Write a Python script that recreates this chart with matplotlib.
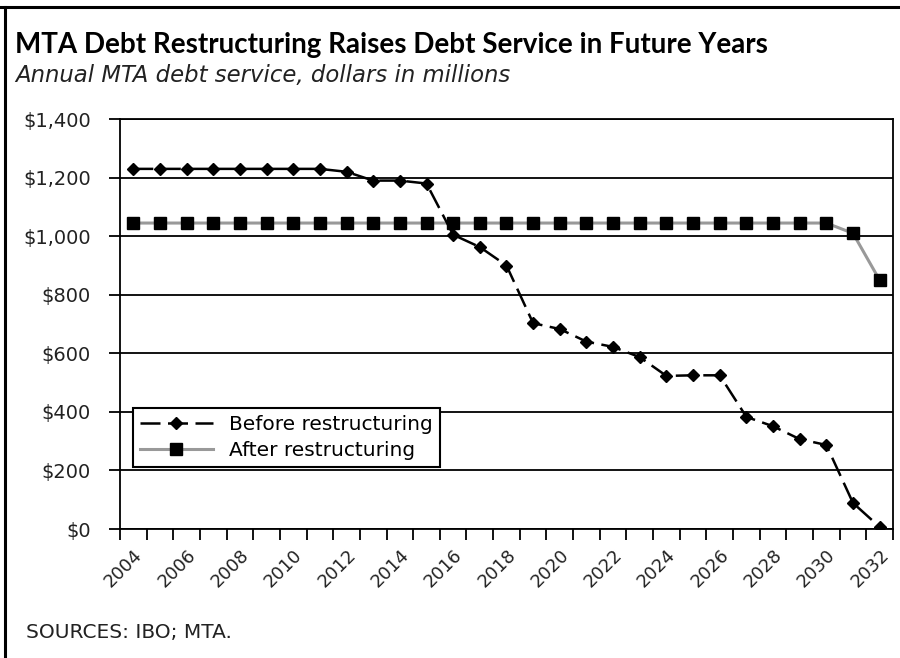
import matplotlib.pyplot as plt
from matplotlib.lines import Line2D

years = list(range(2004, 2033))
before = [1230, 1230, 1230, 1230, 1230, 1230, 1230, 1230, 1220, 1190,
          1190, 1180, 1005, 963, 900, 703, 683, 640, 622, 587,
          523, 525, 525, 383, 351, 307, 287, 89, 7]
after = [1045] * 27 + [1010, 850]
y_ticks = [0, 200, 400, 600, 800, 1000, 1200, 1400]


def main():
    plt.rcParams['font.family'] = ['DejaVu Sans']
    fig = plt.figure(figsize=(9, 6.58), dpi=100)
    ax = fig.add_axes([0.1333, 0.196, 0.8589, 0.623])

    x = list(range(len(years)))
    ax.plot(x, before, color='black', lw=1.8, ls=(0, (8, 3)),
            marker='D', ms=6.5, label='Before restructuring', zorder=4)
    ax.plot(x, after, color='#999999', lw=2.2, marker='s', ms=8,
            mfc='black', mec='black', label='After restructuring', zorder=3)

    ax.set_xlim(-0.5, len(years) - 0.5)
    ax.set_ylim(0, 1400)
    ax.set_yticks(y_ticks)
    ax.set_yticklabels(['$0'] + ['${:,}'.format(v) for v in y_ticks[1:]],
                       fontsize=14, color='#222222')
    ax.yaxis.grid(True, color='black', lw=1.3)
    ax.set_axisbelow(True)

    ax.set_xticks(x[::2])
    ax.set_xticklabels([str(y) for y in years[::2]], rotation=45,
                       ha='right', va='top', rotation_mode='anchor',
                       fontsize=13, color='#222222')
    ax.set_xticks([i - 0.5 for i in range(len(years) + 1)], minor=True)
    ax.tick_params(axis='x', which='major', length=0, pad=12)
    ax.tick_params(axis='x', which='minor', length=8, width=1.3,
                   direction='out')
    ax.tick_params(axis='y', length=8, width=1.3, direction='out', pad=13)
    for s in ax.spines.values():
        s.set_linewidth(1.3)
        s.set_color('black')

    leg = ax.legend(loc='lower left', bbox_to_anchor=(0.017, 0.151),
                    borderaxespad=0, fontsize=14.5, handlelength=3.6,
                    numpoints=1, fancybox=False, framealpha=1,
                    edgecolor='black', borderpad=0.35, labelspacing=0.35)
    leg.get_frame().set_linewidth(1.5)

    fig.text(0.017, 0.932, 'MTA Debt Restructuring Raises Debt Service in Future Years',
             fontsize=20, fontweight='bold', va='center', family='Lato')
    fig.text(0.017, 0.886, 'Annual MTA debt service, dollars in millions',
             fontsize=16.4, style='italic', va='center', color='#222222')
    fig.text(0.029, 0.038, 'SOURCES: IBO; MTA.', fontsize=14.5,
             va='center', color='#222222')

    # outer frame: top and left edges only
    fig.add_artist(Line2D([0, 1], [0.989, 0.989], color='black', lw=2.2,
                          transform=fig.transFigure))
    fig.add_artist(Line2D([0.006, 0.006], [0, 0.989], color='black', lw=2.2,
                          transform=fig.transFigure))

    fig.savefig('out.png')


if __name__ == '__main__':
    main()
